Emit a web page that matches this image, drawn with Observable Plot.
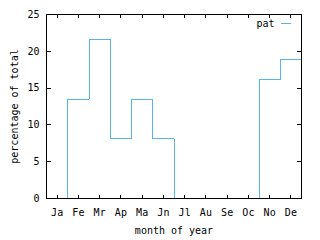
<!DOCTYPE html>
<html>
<head>
<meta charset="utf-8">
<script src="https://cdn.jsdelivr.net/npm/d3@7"></script>
<script src="https://cdn.jsdelivr.net/npm/@observablehq/plot@0.6"></script>
<style>
  html, body { margin: 0; padding: 0; background: #fff; }
  #chart svg { display: block; }
</style>
</head>
<body>
<div id="chart"></div>
<script>
const months = ["Ja", "Fe", "Mr", "Ap", "Ma", "Jn", "Jl", "Au", "Se", "Oc", "No", "De"];
const pat = [0, 13.5, 21.6, 8.1, 13.5, 8.1, 0, 0, 0, 0, 16.2, 18.9];
const yTicks = [0, 5, 10, 15, 20, 25];
const seriesName = "pat";
const xLabel = "month of year";
const yLabel = "percentage of total";

const lineColor = "#56b4e9";
const font = "DejaVu Sans Mono";

// histeps: each month's value spans month-0.5 .. month+0.5
const steps = months.map((m, i) => ({x: i + 0.5, y: pat[i]}));
steps.push({x: months.length + 0.5, y: pat[pat.length - 1]});
const monthIdx = months.map((m, i) => i + 1);

const lineShape = {draw(context, l) { context.moveTo(0, 0); context.lineTo(0, -l); }};
const tickOpts = {length: 3, anchor: "start", shape: lineShape, stroke: "#000", strokeWidth: 1, shapeRendering: "crispEdges"};

const chart = Plot.plot({
  width: 320,
  height: 240,
  marginLeft: 46,
  marginRight: 19,
  marginTop: 14,
  marginBottom: 42,
  style: {fontFamily: font, fontSize: "10px", color: "#000", background: "#fff"},
  x: {domain: [0.5, 12.5]},
  y: {domain: [0, 25]},
  marks: [
    Plot.line(steps, {x: "x", y: "y", curve: "step-after", stroke: lineColor, strokeWidth: 1, shapeRendering: "crispEdges"}),
    Plot.frame({stroke: "#000", strokeWidth: 1, shapeRendering: "crispEdges"}),
    // tick labels
    Plot.axisX({ticks: monthIdx, tickFormat: d => months[d - 1], tickSize: 0, tickPadding: 10, label: null}),
    Plot.axisY({ticks: yTicks, tickSize: 0, tickPadding: 7, label: null}),
    // inward ticks on all four sides
    Plot.vector(monthIdx, {...tickOpts, x: d => d, frameAnchor: "bottom", rotate: 0}),
    Plot.vector(monthIdx, {...tickOpts, x: d => d, frameAnchor: "top", rotate: 180}),
    Plot.vector(yTicks, {...tickOpts, length: 4, y: d => d, frameAnchor: "left", rotate: 90}),
    Plot.vector(yTicks, {...tickOpts, length: 4, y: d => d, frameAnchor: "right", rotate: -90}),
    // axis labels
    Plot.text([xLabel], {frameAnchor: "bottom", dy: 32, textAnchor: "middle", lineAnchor: "middle", fill: "#000"}),
    Plot.text([yLabel], {frameAnchor: "left", dx: -32, rotate: -90, textAnchor: "middle", lineAnchor: "middle", fill: "#000"}),
    // legend
    Plot.text([seriesName], {frameAnchor: "top-right", dx: -27, dy: 9, textAnchor: "end", lineAnchor: "middle", fill: "#000"}),
    Plot.vector([seriesName], {frameAnchor: "top-right", dx: -20, dy: 9, rotate: 90, length: 9, anchor: "start", shape: lineShape, stroke: lineColor, strokeWidth: 1, shapeRendering: "crispEdges"})
  ]
});
document.getElementById("chart").appendChild(chart);
</script>
</body>
</html>
